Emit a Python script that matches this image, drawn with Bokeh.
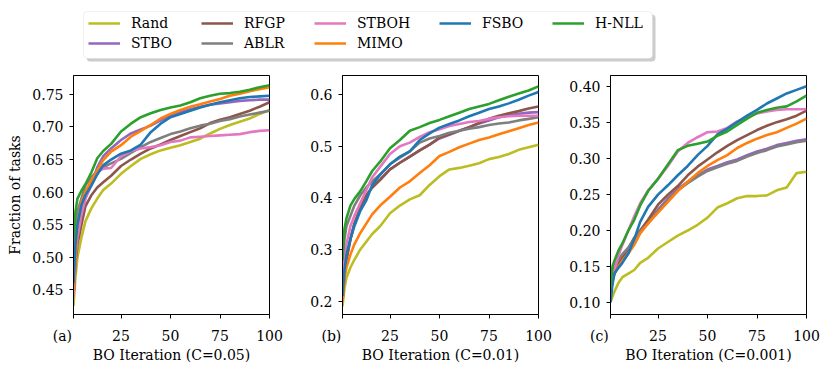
from bokeh.plotting import figure
from bokeh.models import (Legend, LegendItem, Range1d, FixedTicker, NumeralTickFormatter,
                          BoxAnnotation)
from bokeh.layouts import column, row
from bokeh.embed import file_html
from bokeh.resources import INLINE

FONT = "DejaVu Serif"

methods = ["Rand", "STBO", "RFGP", "ABLR", "STBOH", "MIMO", "FSBO", "H-NLL"]
colors = ["#bcbd22", "#9467bd", "#8c564b", "#7f7f7f", "#e377c2", "#ff7f0e", "#1f77b4", "#2ca02c"]

iters = [1, 2, 3, 5, 7, 10, 13, 16, 20, 25, 30, 35, 40, 45, 50, 55, 60, 65, 70, 75, 80, 85, 90, 95, 100]

# Panel (a) C=0.05
a_rand  = [0.425,0.47,0.50,0.53,0.555,0.575,0.59,0.603,0.613,0.628,0.64,0.651,0.658,0.664,0.668,0.672,0.677,0.682,0.69,0.697,0.703,0.708,0.713,0.72,0.726]
a_stbo  = [0.44,0.50,0.53,0.565,0.59,0.612,0.638,0.655,0.667,0.68,0.69,0.696,0.702,0.71,0.718,0.723,0.727,0.731,0.734,0.736,0.738,0.74,0.741,0.742,0.742]
a_rfgp  = [0.44,0.49,0.52,0.55,0.578,0.595,0.607,0.615,0.625,0.64,0.65,0.659,0.667,0.673,0.68,0.686,0.692,0.698,0.706,0.711,0.715,0.72,0.725,0.731,0.738]
a_ablr  = [0.47,0.54,0.57,0.59,0.61,0.623,0.632,0.638,0.644,0.651,0.66,0.669,0.677,0.683,0.689,0.693,0.698,0.702,0.705,0.709,0.712,0.716,0.719,0.722,0.725]
a_stboh = [0.44,0.50,0.53,0.565,0.59,0.61,0.63,0.636,0.637,0.655,0.663,0.667,0.669,0.672,0.677,0.679,0.684,0.685,0.686,0.687,0.688,0.689,0.692,0.694,0.695]
a_mimo  = [0.45,0.50,0.55,0.585,0.60,0.618,0.633,0.649,0.662,0.672,0.685,0.694,0.703,0.713,0.72,0.726,0.731,0.735,0.739,0.743,0.748,0.751,0.755,0.758,0.761]
a_fsbo  = [0.46,0.52,0.55,0.58,0.595,0.61,0.627,0.641,0.65,0.659,0.664,0.673,0.692,0.705,0.715,0.72,0.725,0.73,0.734,0.738,0.741,0.744,0.746,0.747,0.748]
a_hnll  = [0.53,0.57,0.59,0.602,0.612,0.63,0.652,0.663,0.674,0.693,0.705,0.715,0.721,0.726,0.73,0.733,0.738,0.744,0.748,0.751,0.752,0.754,0.757,0.761,0.764]

# Panel (b) C=0.01
b_rand  = [0.19,0.225,0.245,0.265,0.28,0.30,0.315,0.33,0.345,0.37,0.385,0.397,0.405,0.425,0.442,0.455,0.458,0.462,0.467,0.475,0.479,0.485,0.493,0.498,0.503]
b_stbo  = [0.20,0.25,0.28,0.32,0.35,0.38,0.405,0.42,0.435,0.455,0.468,0.48,0.492,0.503,0.515,0.522,0.53,0.537,0.544,0.55,0.556,0.56,0.563,0.565,0.566]
b_rfgp  = [0.20,0.25,0.28,0.32,0.35,0.38,0.405,0.42,0.435,0.455,0.468,0.48,0.492,0.503,0.517,0.523,0.53,0.537,0.545,0.553,0.559,0.564,0.568,0.573,0.577]
b_ablr  = [0.25,0.32,0.345,0.365,0.385,0.405,0.42,0.432,0.445,0.465,0.478,0.49,0.507,0.515,0.52,0.526,0.53,0.534,0.537,0.541,0.544,0.546,0.55,0.553,0.556]
b_stboh = [0.22,0.28,0.31,0.345,0.365,0.39,0.415,0.44,0.46,0.485,0.50,0.507,0.518,0.527,0.533,0.539,0.543,0.547,0.549,0.553,0.556,0.558,0.559,0.559,0.559]
b_mimo  = [0.20,0.245,0.265,0.29,0.31,0.332,0.35,0.368,0.385,0.402,0.42,0.432,0.448,0.463,0.481,0.489,0.498,0.505,0.512,0.517,0.523,0.529,0.535,0.541,0.546]
b_fsbo  = [0.21,0.26,0.29,0.32,0.345,0.375,0.395,0.425,0.445,0.465,0.48,0.49,0.512,0.525,0.536,0.543,0.55,0.558,0.565,0.572,0.577,0.583,0.59,0.598,0.605]
b_hnll  = [0.28,0.34,0.36,0.385,0.398,0.413,0.432,0.452,0.47,0.496,0.512,0.53,0.537,0.545,0.551,0.558,0.565,0.572,0.577,0.582,0.589,0.596,0.602,0.608,0.616]

# Panel (c) C=0.001
c_rand  = [0.10,0.108,0.115,0.127,0.135,0.14,0.145,0.155,0.162,0.175,0.184,0.193,0.20,0.208,0.218,0.232,0.238,0.245,0.248,0.248,0.249,0.256,0.26,0.28,0.282]
c_stbo  = [0.11,0.135,0.145,0.155,0.165,0.175,0.188,0.20,0.212,0.229,0.245,0.258,0.268,0.277,0.285,0.29,0.295,0.299,0.305,0.31,0.314,0.319,0.322,0.325,0.327]
c_rfgp  = [0.11,0.13,0.14,0.152,0.162,0.175,0.19,0.20,0.215,0.236,0.25,0.262,0.277,0.289,0.299,0.309,0.318,0.326,0.333,0.34,0.346,0.351,0.355,0.36,0.367]
c_ablr  = [0.11,0.14,0.15,0.16,0.167,0.176,0.188,0.199,0.21,0.227,0.243,0.256,0.266,0.275,0.283,0.288,0.293,0.297,0.303,0.308,0.312,0.317,0.32,0.323,0.325]
c_stboh = [0.11,0.13,0.145,0.165,0.18,0.20,0.22,0.238,0.256,0.272,0.29,0.31,0.322,0.33,0.337,0.338,0.343,0.352,0.358,0.363,0.366,0.368,0.369,0.369,0.369]
c_mimo  = [0.11,0.13,0.14,0.15,0.158,0.168,0.18,0.196,0.21,0.225,0.24,0.255,0.268,0.28,0.29,0.298,0.305,0.315,0.322,0.328,0.333,0.337,0.343,0.349,0.356]
c_fsbo  = [0.10,0.125,0.14,0.148,0.155,0.168,0.188,0.212,0.233,0.25,0.263,0.277,0.29,0.305,0.318,0.334,0.342,0.351,0.36,0.368,0.377,0.384,0.391,0.396,0.401]
c_hnll  = [0.12,0.15,0.158,0.172,0.182,0.20,0.215,0.235,0.255,0.272,0.292,0.312,0.318,0.321,0.324,0.332,0.338,0.347,0.356,0.364,0.368,0.371,0.373,0.38,0.388]

panels = [
    dict(series=[a_rand, a_stbo, a_rfgp, a_ablr, a_stboh, a_mimo, a_fsbo, a_hnll],
         yr=(0.412, 0.779), ticks=[0.45, 0.50, 0.55, 0.60, 0.65, 0.70, 0.75], fmt="0.00",
         xlabel="BO Iteration (C=0.05)", tag="(a)", ylabel="Fraction of tasks",
         left=73, right=21),
    dict(series=[b_rand, b_stbo, b_rfgp, b_ablr, b_stboh, b_mimo, b_fsbo, b_hnll],
         yr=(0.174, 0.637), ticks=[0.2, 0.3, 0.4, 0.5, 0.6], fmt="0.0",
         xlabel="BO Iteration (C=0.01)", tag="(b)", ylabel=None,
         left=52, right=22),
    dict(series=[c_rand, c_stbo, c_rfgp, c_ablr, c_stboh, c_mimo, c_fsbo, c_hnll],
         yr=(0.083, 0.416), ticks=[0.10, 0.15, 0.20, 0.25, 0.30, 0.35, 0.40], fmt="0.00",
         xlabel="BO Iteration (C=0.001)", tag="(c)", ylabel=None,
         left=50, right=24),
]
xticks = [25, 50, 75, 100]

FW, FH = 196, 239
TOP, BOTTOM = 5, 54

figs = []
for pd_ in panels:
    p = figure(frame_width=FW, frame_height=FH, x_range=Range1d(1, 100),
               y_range=Range1d(*pd_["yr"]), output_backend="svg", toolbar_location=None,
               min_border_left=pd_["left"], min_border_right=pd_["right"],
               min_border_top=TOP, min_border_bottom=BOTTOM)
    p.grid.visible = False
    p.outline_line_color = "black"
    p.outline_line_width = 1
    p.background_fill_color = "white"
    p.border_fill_color = "white"
    for ax in (p.xaxis[0], p.yaxis[0]):
        ax.axis_line_color = "black"
        ax.major_tick_line_color = "black"
        ax.minor_tick_line_color = None
        ax.major_tick_in = 0
        ax.major_tick_out = 4
        ax.major_label_text_font = FONT
        ax.major_label_text_font_size = "14px"
        ax.major_label_text_color = "black"
        ax.axis_label_text_font = FONT
        ax.axis_label_text_font_size = "14px"
        ax.axis_label_text_font_style = "normal"
        ax.axis_label_text_color = "black"
    # the panel tag "(a)/(b)/(c)" sits on the tick-label line, just left of the frame
    p.xaxis.ticker = FixedTicker(ticks=[1] + xticks)
    p.xaxis.major_label_overrides = {1: pd_["tag"] + "     "}
    p.xaxis.major_label_standoff = 9
    p.xaxis.axis_label = pd_["xlabel"]
    p.xaxis.axis_label_standoff = 0
    p.yaxis.ticker = FixedTicker(ticks=pd_["ticks"])
    p.yaxis.formatter = NumeralTickFormatter(format=pd_["fmt"])
    p.yaxis.major_label_standoff = 6
    if pd_["ylabel"]:
        p.yaxis.axis_label = pd_["ylabel"]
        p.yaxis.axis_label_standoff = 6
    for ys, c in zip(pd_["series"], colors):
        p.line(iters, ys, line_color=c, line_width=2.6)
    figs.append(p)

# Legend figure
LW, LH = 831, 70
lf = figure(width=LW, height=LH, x_range=Range1d(0, LW), y_range=Range1d(0, LH),
            output_backend="svg", toolbar_location=None, min_border=0,
            x_axis_location=None, y_axis_location=None)
lf.grid.visible = False
lf.outline_line_color = None
lf.border_fill_color = "white"
lf.add_layout(BoxAnnotation(left=86, right=655, bottom=9, top=56, fill_color="#999999",
                            fill_alpha=0.5, line_color=None, border_radius=4))
lf.add_layout(BoxAnnotation(left=83, right=652, bottom=12, top=59, fill_color="white",
                            fill_alpha=1.0, line_color="#cccccc", line_width=1, border_radius=4))
items = []
for m, c in zip(methods, colors):
    r = lf.line(x=[-20, -10], y=[-20, -20], line_color=c, line_width=2.6)
    items.append(LegendItem(label=m, renderers=[r]))
common = dict(background_fill_alpha=0, border_line_color=None, padding=0, margin=0,
              spacing=0, glyph_width=32, glyph_height=20, label_height=20, label_width=70,
              label_standoff=11, label_text_font=FONT, label_text_font_size="14px",
              label_text_color="black")
leg1 = Legend(items=items[:6], location=(88, 17), orientation="vertical", nrows=2, **common)
leg2 = Legend(items=items[6:], location=(439, 37), orientation="horizontal", **common)
lf.add_layout(leg1)
lf.add_layout(leg2)

layout = column(lf, row(*figs, spacing=0), spacing=0)
open("out.html", "w").write(file_html(layout, INLINE))
